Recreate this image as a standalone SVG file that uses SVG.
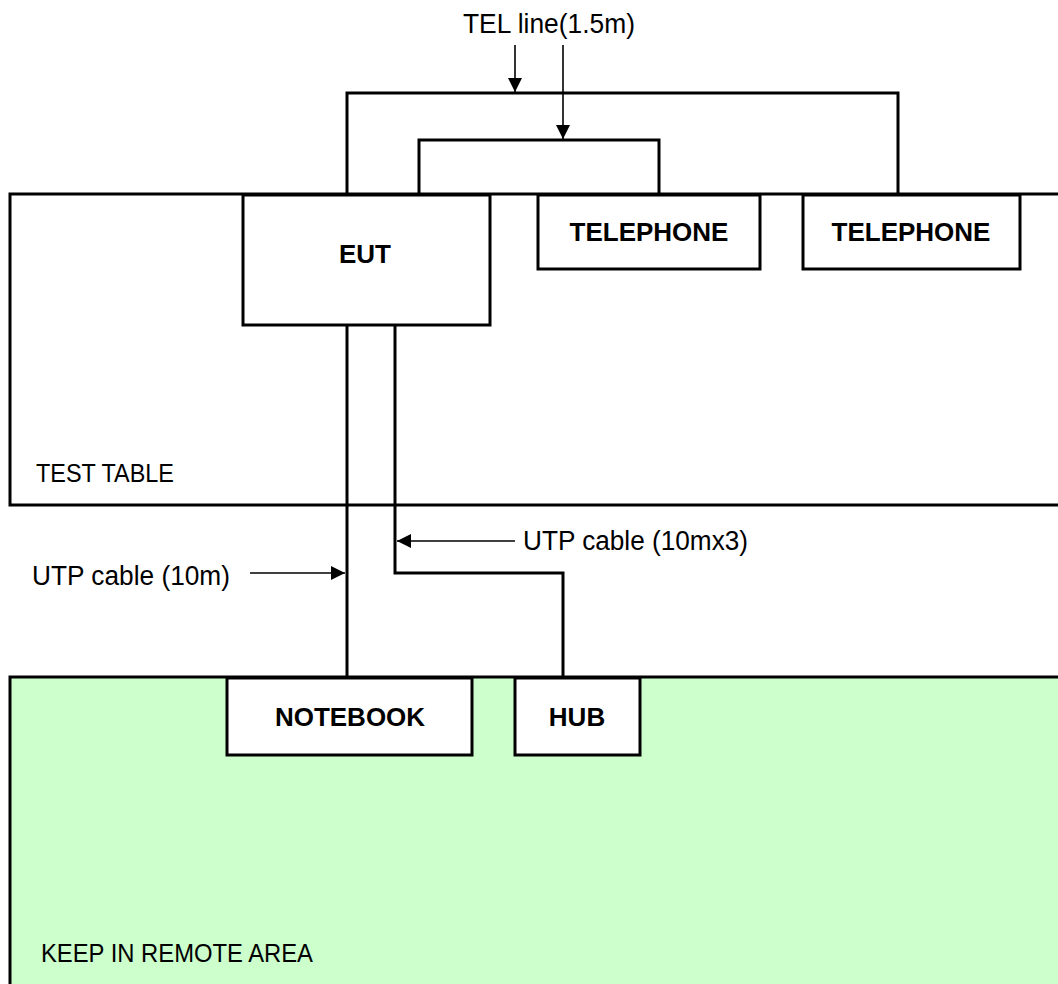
<svg xmlns="http://www.w3.org/2000/svg" width="1058" height="984" viewBox="0 0 1058 984">
<defs>
<style>
.box{fill:#fff;stroke:#000;stroke-width:3}
.area{stroke:#000;stroke-width:3}
.wire{fill:none;stroke:#000;stroke-width:3}
.lead{fill:none;stroke:#000;stroke-width:1.6}
.lbl{font-family:"Liberation Sans",Arial,sans-serif;font-size:27px;fill:#000}
.name{font-family:"Liberation Sans",Arial,sans-serif;font-size:26px;font-weight:bold;fill:#000;text-anchor:middle}
.area-lbl{font-family:"Liberation Sans",Arial,sans-serif;font-size:25px;fill:#000}
</style>
<marker id="ah" viewBox="0 0 14 14" refX="14" refY="7" markerWidth="14" markerHeight="14" markerUnits="userSpaceOnUse" orient="auto">
<path d="M0,0 L14,7 L0,14 Z" fill="#000"/>
</marker>
</defs>
<rect width="1058" height="984" fill="#fff"/>
<g id="test-table">
<rect class="area" x="10" y="194" width="1060" height="311" fill="#fff"/>
<text class="area-lbl" x="36" y="482" textLength="138" lengthAdjust="spacingAndGlyphs">TEST TABLE</text>
</g>
<g id="remote-area">
<rect class="area" x="10" y="677" width="1060" height="320" fill="#ccffcc"/>
<text class="area-lbl" x="41" y="962" textLength="272" lengthAdjust="spacingAndGlyphs">KEEP IN REMOTE AREA</text>
</g>
<g id="connectors">
<path class="wire" d="M347,194 V93 H898 V194"/>
<path class="wire" d="M419,194 V140 H659 V194"/>
<path class="wire" d="M347,325 V677"/>
<path class="wire" d="M395,325 V573 H563 V677"/>
<line class="lead" x1="515" y1="45" x2="515" y2="92" marker-end="url(#ah)"/>
<line class="lead" x1="563" y1="45" x2="563" y2="139" marker-end="url(#ah)"/>
<line class="lead" x1="515" y1="541" x2="397" y2="541" marker-end="url(#ah)"/>
<line class="lead" x1="250" y1="573" x2="345" y2="573" marker-end="url(#ah)"/>
<text class="lbl" x="463" y="33" textLength="172" lengthAdjust="spacingAndGlyphs">TEL line(1.5m)</text>
<text class="lbl" x="523" y="550" textLength="225" lengthAdjust="spacingAndGlyphs">UTP cable (10mx3)</text>
<text class="lbl" x="32" y="585" textLength="198" lengthAdjust="spacingAndGlyphs">UTP cable (10m)</text>
</g>
<g id="eut">
<rect class="box" x="243" y="195" width="247" height="130"/>
<text class="name" x="365" y="263">EUT</text>
</g>
<g id="telephone-1">
<rect class="box" x="538" y="195" width="222" height="74"/>
<text class="name" x="649" y="241">TELEPHONE</text>
</g>
<g id="telephone-2">
<rect class="box" x="803" y="195" width="217" height="74"/>
<text class="name" x="911" y="241">TELEPHONE</text>
</g>
<g id="notebook">
<rect class="box" x="227" y="678" width="245" height="77"/>
<text class="name" x="350" y="726">NOTEBOOK</text>
</g>
<g id="hub">
<rect class="box" x="515" y="678" width="125" height="77"/>
<text class="name" x="577" y="726">HUB</text>
</g>
</svg>
